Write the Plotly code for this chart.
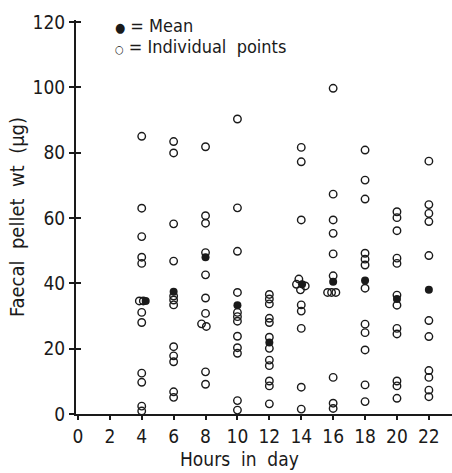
import plotly.graph_objects as go

# Individual points: hour position and faecal pellet weight (µg)
ind_hours = (
    [4]*5 + [3.85, 4.1] + [4]*6 +
    [6]*12 +
    [8]*7 + [7.75, 8.05] + [8]*2 +
    [10]*12 +
    [12]*12 +
    [14]*3 + [13.85, 13.7, 14.25, 13.95] + [14]*5 +
    [16]*6 + [15.65, 15.9, 16.17] + [16]*3 +
    [18]*12 +
    [20]*12 +
    [22]*11
)
ind_values = (
    [85, 63, 54.3, 48, 46.1, 34.6, 34.6, 31.1, 28, 12.5, 9.7, 2.4, 0.9] +
    [83.4, 79.9, 58.2, 46.8, 36.1, 34.9, 33.4, 20.6, 17.8, 16.0, 6.8, 5.1] +
    [81.8, 60.7, 58.4, 49.4, 42.6, 35.5, 30.8, 27.6, 26.8, 12.9, 9.1] +
    [90.3, 63.1, 49.8, 37.2, 31.1, 29.8, 28.4, 23.8, 20.3, 18.6, 4.1, 1.2] +
    [36.6, 35.2, 33.7, 29.3, 28.0, 23.5, 20.1, 16.5, 14.8, 10.1, 8.6, 3.1] +
    [81.6, 77.2, 59.4, 41.3, 39.7, 39.2, 38.0, 33.4, 31.5, 26.2, 8.2, 1.5] +
    [99.7, 67.3, 59.4, 55.3, 49.0, 42.3, 37.2, 37.2, 37.2, 11.2, 3.3, 1.7] +
    [80.8, 71.6, 65.8, 49.2, 47.4, 45.6, 38.5, 27.5, 24.9, 19.6, 8.9, 3.8] +
    [61.9, 60.1, 56.1, 47.7, 46.1, 36.4, 33.3, 26.2, 24.5, 10.1, 8.6, 4.8] +
    [77.4, 64.1, 61.4, 58.9, 48.5, 28.6, 23.7, 13.3, 11.2, 7.3, 5.3]
)

# Means
mean_hours = [4.25, 6, 8, 10, 12, 14.05, 16, 18, 20, 22]
mean_values = [34.6, 37.4, 48.0, 33.3, 21.9, 39.7, 40.5, 40.9, 35.2, 38.0]

x_ticks = list(range(0, 23, 2))
y_ticks = [0, 20, 40, 60, 80, 100, 120]

FONT = "Liberation Sans Narrow, DejaVu Sans Condensed, Liberation Sans, Arial, sans-serif"
INK = "#1a1a1a"

fig = go.Figure()
fig.add_trace(go.Scatter(
    x=ind_hours, y=ind_values, mode="markers", name="Individual points",
    marker=dict(symbol="circle-open", size=7.5, color=INK, line=dict(width=1.4, color=INK)),
    cliponaxis=False, showlegend=False,
))
fig.add_trace(go.Scatter(
    x=mean_hours, y=mean_values, mode="markers", name="Mean",
    marker=dict(symbol="circle", size=8, color=INK),
    cliponaxis=False, showlegend=False,
))
# overlay axis for inward tick halves (crossing ticks)
fig.add_trace(go.Scatter(x=[None], y=[None], yaxis="y2", showlegend=False, hoverinfo="skip"))

fig.update_layout(
    width=452, height=473,
    margin=dict(l=76, r=0, t=20, b=59),
    paper_bgcolor="white", plot_bgcolor="white",
    font=dict(family=FONT, color=INK, size=18),
    xaxis=dict(
        range=[-0.12, 23.45], tickvals=x_ticks, ticktext=[str(v) for v in x_ticks],
        showgrid=False, zeroline=False, showline=True, linecolor=INK, linewidth=2,
        ticks="outside", ticklen=4, tickwidth=1.5, tickcolor=INK,
        tickfont=dict(size=19), automargin=False,
    ),
    yaxis=dict(
        range=[0, 120.6], tickvals=y_ticks, ticktext=[str(v) for v in y_ticks],
        showgrid=False, zeroline=False, showline=True, linecolor=INK, linewidth=2,
        ticks="outside", ticklen=5, tickwidth=1.5, tickcolor=INK,
        tickfont=dict(size=19), automargin=False,
        title=dict(text="Faecal\u00a0\u00a0pellet\u00a0\u00a0wt\u00a0\u00a0(\u03bcg)", font=dict(size=20), standoff=3),
    ),
    yaxis2=dict(
        overlaying="y", side="left", range=[0, 120.6], tickvals=y_ticks,
        showticklabels=False, showgrid=False, zeroline=False, showline=False,
        ticks="inside", ticklen=5, tickwidth=1.5, tickcolor=INK, automargin=False,
    ),
    annotations=[
        dict(xref="paper", yref="paper", x=0.436, y=-0.147, xanchor="center", yanchor="bottom",
             showarrow=False, text="Hours\u00a0\u00a0in\u00a0\u00a0day",
             font=dict(size=19, family=FONT, color=INK)),
        dict(xref="paper", yref="paper", x=0.098, y=0.985, xanchor="left", yanchor="middle",
             showarrow=False, text="<span style='font-size:13px'>\u25cf</span> = Mean",
             font=dict(size=18, family=FONT, color=INK)),
        dict(xref="paper", yref="paper", x=0.098, y=0.934, xanchor="left", yanchor="middle",
             showarrow=False, text="<span style='font-size:11px'>\u25cb</span> = Individual\u00a0\u00a0points",
             font=dict(size=18, family=FONT, color=INK)),
    ],
)

fig.write_html("out.html", config={"displayModeBar": False},
               post_script="document.body.style.margin='0';document.body.style.overflow='hidden';")
